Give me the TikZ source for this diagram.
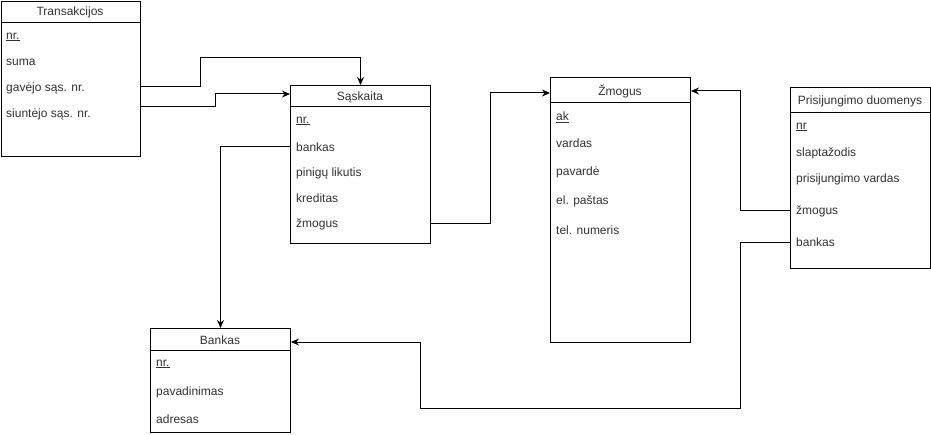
\documentclass[tikz,border=0pt]{standalone}
\usepackage{fontspec}
\setmainfont{Liberation Sans}
\usetikzlibrary{arrows.meta}
\begin{document}
\begin{tikzpicture}[x=1pt,y=-1pt,
  tbl/.style={draw=black,line width=1pt,anchor=north west,inner sep=0pt,fill=white},
  ttl/.style={inner sep=0pt,text=black!80,font=\fontsize{12}{14}\selectfont},
  rowtxt/.style={anchor=west,inner sep=0pt,text=black!80,font=\fontsize{12}{14}\selectfont},
  hdr/.style={line width=1pt},
  conn/.style={line width=1pt,-{Stealth[length=8pt,width=7pt]}}]
\useasboundingbox (0,0) rectangle (931,435);
% Transakcijos
\node[tbl,minimum width=139pt,minimum height=155pt] (T) at (1,1) {};
\draw[hdr] (1,23) -- (140,23);
\node[ttl] (Tt) at (70,12) {Transakcijos};
\node[rowtxt] (Tnr) at (6,37) {\underline{nr.}};
\node[rowtxt] (Tsum) at (6,62) {suma};
\node[rowtxt] (Tgav) at (6,88) {gavėjo sąs. nr.};
\node[rowtxt] (Tsiu) at (6,114) {siuntėjo sąs. nr.};
% Saskaita
\node[tbl,minimum width=140pt,minimum height=158pt] (S) at (290,85) {};
\draw[hdr] (290,107) -- (430,107);
\node[ttl] (St) at (360,97) {Sąskaita};
\node[rowtxt] (Snr) at (296,121) {\underline{nr.}};
\node[rowtxt] (Sbank) at (296,147) {bankas};
\node[rowtxt] (Spin) at (296,173) {pinigų likutis};
\node[rowtxt] (Skred) at (296,198) {kreditas};
\node[rowtxt] (Szm) at (296,224) {žmogus};
% Zmogus
\node[tbl,minimum width=140pt,minimum height=265pt] (Z) at (550,77) {};
\draw[hdr] (550,103) -- (690,103);
\node[ttl] (Zt) at (620,92) {Žmogus};
\node[rowtxt] (Zak) at (556,117) {\underline{ak}};
\node[rowtxt] (Zvar) at (556,143) {vardas};
\node[rowtxt] (Zpav) at (556,172) {pavardė};
\node[rowtxt] (Zel) at (556,201) {el. paštas};
\node[rowtxt] (Ztel) at (556,230) {tel. numeris};
% Prisijungimo duomenys
\node[tbl,minimum width=140pt,minimum height=181pt] (P) at (790,87) {};
\draw[hdr] (790,113) -- (930,113);
\node[ttl] (Pt) at (860,101) {Prisijungimo duomenys};
\node[rowtxt] (Pnr) at (796,127) {\underline{nr}};
\node[rowtxt] (Pslap) at (796,153) {slaptažodis};
\node[rowtxt] (Pvar) at (796,179) {prisijungimo vardas};
\node[rowtxt] (Pzm) at (796,211) {žmogus};
\node[rowtxt] (Pbank) at (796,242) {bankas};
% Bankas
\node[tbl,minimum width=140pt,minimum height=104pt] (B) at (150,328) {};
\draw[hdr] (150,350) -- (290,350);
\node[ttl] (Bt) at (220,340) {Bankas};
\node[rowtxt] (Bnr) at (156,364) {\underline{nr.}};
\node[rowtxt] (Bpav) at (156,392) {pavadinimas};
\node[rowtxt] (Badr) at (156,419) {adresas};
% connector anchor coordinates
\coordinate (c1) at (0,87);
\coordinate (c2) at (0,107);
\coordinate (c3) at (0,94);
\coordinate (c4) at (0,93);
\coordinate (c5) at (0,91);
\coordinate (c6) at (0,342);
\coordinate (c7) at (0,243);
% connectors
\draw[conn] (T.east |- c1) -- (200,87) -- (200,58) -| (S.north);
\draw[conn] (T.east |- c2) -- (215,107) -- (215,94) -- (S.west |- c3);
\draw[conn] (S.west |- Sbank) -| (B.north);
\draw[conn] (S.east |- Szm) -- (490,224) -- (490,93) -- (Z.west |- c4);
\draw[conn] (P.west |- Pzm) -- (740,211) -- (740,91) -- (Z.east |- c5);
\draw[conn] (P.west |- c7) -- (740,243) -- (740,408) -- (420,408) -- (420,342) -- (B.east |- c6);
\end{tikzpicture}
\end{document}
